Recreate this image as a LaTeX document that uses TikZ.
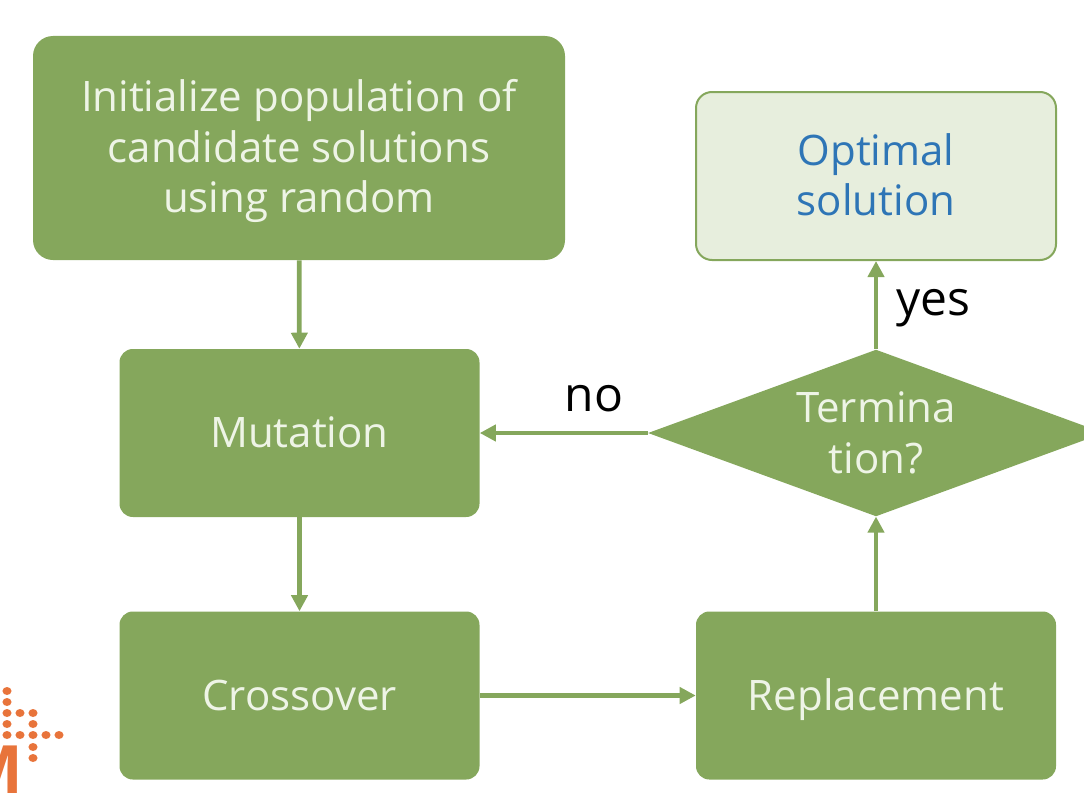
\documentclass[tikz,border=0pt]{standalone}
\usepackage{fontspec}
\setmainfont{Open Sans}
\usetikzlibrary{shapes.geometric,arrows.meta,positioning}
\definecolor{leaf}{HTML}{85A75C}
\definecolor{paleleaf}{HTML}{E7EEDD}
\definecolor{paletext}{HTML}{EEF4E6}
\definecolor{sky}{HTML}{2E75B6}
\definecolor{logo}{HTML}{E8743B}
\tikzset{
  proc/.style={draw=none, fill=leaf, text=paletext, rectangle, rounded corners=10pt, minimum width=270pt, minimum height=126pt, align=center, font=\fontsize{31.5}{38}\selectfont},
  oneline/.style={text height=22pt, text depth=0pt},
  flow/.style={draw=leaf, line width=3.5pt, -{Triangle[length=12pt,width=12pt]}},
  lab/.style={text=black, font=\fontsize{36}{42}\selectfont}
}
\begin{document}
\begin{tikzpicture}[x=0.75pt, y=-0.75pt]
\clip (0,0) rectangle (1084,792);
% logo
\foreach \px/\py in {7/691,7/702,7/713,20/713,33/713,7/724,33/724,7/735,20/735,33/735,46/735,59/735,33/747,33/758}
  \fill[logo] (\px,\py) ellipse (3.4pt and 3pt);
\node[text=logo, font=\fontsize{50}{50}\selectfont\bfseries, anchor=north east, inner sep=0pt] (logotext) at (24,746) {M};
% nodes
\node[proc, minimum width=399pt, minimum height=168pt, rounded corners=15pt, text depth=3pt] (init) at (299,148) {Initialize population of\\candidate solutions\\using random};
\node[proc, oneline] (mutation) at (299.5,433) {Mutation};
\node[proc, oneline] (crossover) at (299.5,695.5) {Crossover};
\node[proc, oneline] (replacement) at (876,695.5) {Replacement};
\node[proc, fill=paleleaf, draw=leaf, line width=1.5pt, text=sky, rounded corners=12pt, text depth=2pt] (optimal) at (876,176) {Optimal\\solution};
\node[diamond, fill=leaf, text=paletext, inner sep=0pt, aspect=2.73, minimum width=342pt, minimum height=125pt, align=center, font=\fontsize{31.5}{38}\selectfont] (term) at (876,433) {Termina\\tion?};
% arrows
\draw[flow] (init) -- (mutation);
\draw[flow] (mutation) -- (crossover);
\draw[flow] (crossover) -- (replacement);
\draw[flow] (replacement) -- (term);
\draw[flow] (term.west) -- node[lab, above, pos=0.32, yshift=11pt] {no} (mutation.east);
\draw[flow] (term.north) -- node[lab, right, pos=0.5, xshift=10pt, yshift=-2pt] {yes} (optimal.south);
\end{tikzpicture}
\end{document}
